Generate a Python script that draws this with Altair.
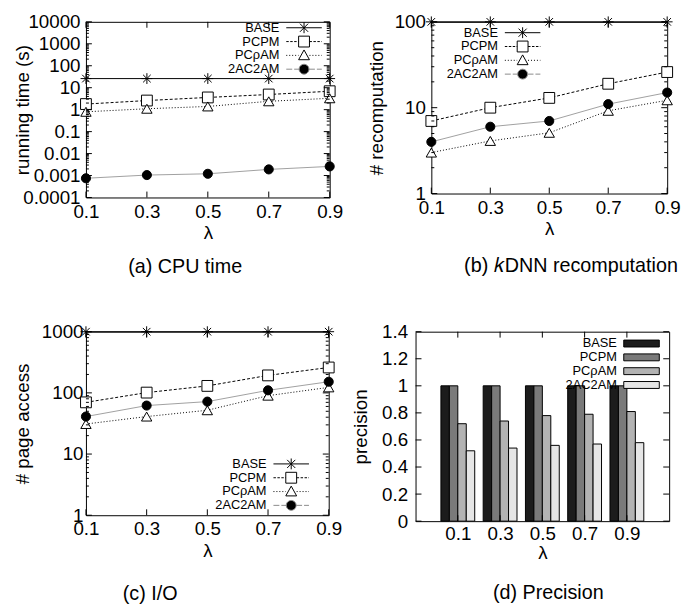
import json
import math
import altair as alt
import pandas as pd

FONT = "Liberation Sans"

series = ["BASE", "PCPM", "PCρAM", "2AC2AM"]
lam = [0.1, 0.3, 0.5, 0.7, 0.9]

# (a) CPU time (s)
cpu_base = [26, 26, 26, 26, 26]
cpu_pcpm = [1.8, 2.6, 3.6, 4.9, 6.9]
cpu_pcram = [0.8, 1.1, 1.4, 2.4, 3.3]
cpu_2ac = [0.00075, 0.00105, 0.0012, 0.0019, 0.0026]

# (b) kDNN recomputation
rec_base = [100, 100, 100, 100, 100]
rec_pcpm = [7, 10, 13, 19, 26]
rec_pcram = [3, 4.1, 5.1, 9.2, 12.2]
rec_2ac = [4, 6, 7, 11, 15]

# (c) I/O
io_base = [1000, 1000, 1000, 1000, 1000]
io_pcpm = [70, 101, 130, 193, 260]
io_pcram = [31, 41, 52, 90, 123]
io_2ac = [41, 62, 72, 110, 152]

# (d) precision
prec_base = [1, 1, 1, 1, 1]
prec_pcpm = [1, 1, 1, 1, 1]
prec_pcram = [0.72, 0.74, 0.78, 0.79, 0.81]
prec_2ac = [0.52, 0.54, 0.56, 0.57, 0.58]

cpu_ticks = [0.0001, 0.001, 0.01, 0.1, 1, 10, 100, 1000, 10000]
rec_ticks = [1, 10, 100]
io_ticks = [1, 10, 100, 1000]
prec_ticks = [0, 0.2, 0.4, 0.6, 0.8, 1.0, 1.2, 1.4]


def minors_of(ticks):
    out = []
    for t in ticks[:-1]:
        out += [t * k for k in range(2, 10)]
    return out


def long_df(vals):
    rows = []
    for s, vs in zip(series, vals):
        for l, v in zip(lam, vs):
            rows.append({"lam": l, "series": s, "value": v})
    return pd.DataFrame(rows)


def E(v):
    return {"expr": str(v)}


# ---------- marker / legend shapes (styles only) ----------
ASTER = "M-1,0H1M0,-1V1M-0.7,-0.7L0.7,0.7M-0.7,0.7L0.7,-0.7"
U = 5.0  # px per legend path unit (symbolSize 100)
LEG_SIZE = 100


def segs(a, b, on, off):
    out = []
    x = a
    while x < b - 0.01:
        e = min(x + on, b)
        out.append(f"M{x / U:.3f},0H{e / U:.3f}")
        x = e + off
    return "".join(out)


def polygon_circle(rad, n=20):
    pts = [(rad * math.cos(2 * math.pi * i / n), rad * math.sin(2 * math.pi * i / n)) for i in range(n)]
    return "M" + "L".join(f"{x:.3f},{y:.3f}" for x, y in pts) + "Z"


m = 5.5 / U
h = 0.75 * m
r = 5.0 / U
leg_paths = [
    segs(-18, 18, 40, 0) + f"M0,{-m:.3f}V{m:.3f}M{-h:.3f},{-h:.3f}L{h:.3f},{h:.3f}M{-h:.3f},{h:.3f}L{h:.3f},{-h:.3f}",
    segs(-18, -5.5, 2.5, 1.5) + segs(5.5, 18, 2.5, 1.5) + f"M{-m:.3f},{-m:.3f}H{m:.3f}V{m:.3f}H{-m:.3f}Z",
    segs(-18, -5.5, 1, 2) + segs(5.5, 18, 1, 2) + f"M0,{-m:.3f}L{m:.3f},{0.8*m:.3f}L{-m:.3f},{0.8*m:.3f}Z",
    segs(-18, -5, 6, 2) + segs(5, 18, 6, 2) + polygon_circle(r),
]
leg_fills = ["transparent", "white", "white", "black"]
leg_strokes = ["black", "black", "black", "#8a8a8a"]

styles = {
    "BASE": dict(line="black", dash=None, shape=ASTER, size=120, fill="transparent"),
    "PCPM": dict(line="black", dash=[3, 2], shape="square", size=120, fill="white"),
    "PCρAM": dict(line="black", dash=[1, 2], shape="triangle-up", size=110, fill="white"),
    "2AC2AM": dict(line="#a0a0a0", dash=None, shape="circle", size=85, fill="black"),
}

bar_colors = ["#1c1c1c", "#7a7a7a", "#b3b3b3", "#e6e6e6"]
RECT = f"M{-18/U:.3f},{-3.5/U:.3f}H{18/U:.3f}V{3.5/U:.3f}H{-18/U:.3f}Z"
LABEL_OFF = E(-31.5)


def tick_layers(yticks, yminors, ysc, yax, w, hgt, xvals, xsc, xax):
    L = []
    tdf = pd.DataFrame({"value": yticks})
    L.append(alt.Chart(tdf).mark_rule(color="black", strokeWidth=1).encode(
        y=alt.Y("value:Q", scale=ysc, axis=yax), x=alt.value(0), x2=alt.value(6)))
    L.append(alt.Chart(tdf).mark_rule(color="black", strokeWidth=1).encode(
        y=alt.Y("value:Q", scale=ysc, axis=yax), x=alt.value(w), x2=alt.value(w - 6)))
    if yminors:
        mdf = pd.DataFrame({"value": yminors})
        L.append(alt.Chart(mdf).mark_rule(color="black", strokeWidth=1).encode(
            y=alt.Y("value:Q", scale=ysc, axis=yax), x=alt.value(0), x2=alt.value(3)))
        L.append(alt.Chart(mdf).mark_rule(color="black", strokeWidth=1).encode(
            y=alt.Y("value:Q", scale=ysc, axis=yax), x=alt.value(w), x2=alt.value(w - 3)))
    xdf = pd.DataFrame({"lam": xvals})
    L.append(alt.Chart(xdf).mark_rule(color="black", strokeWidth=1).encode(
        x=alt.X("lam:Q", scale=xsc, axis=xax), y=alt.value(hgt), y2=alt.value(hgt - 6)))
    L.append(alt.Chart(xdf).mark_rule(color="black", strokeWidth=1).encode(
        x=alt.X("lam:Q", scale=xsc, axis=xax), y=alt.value(0), y2=alt.value(6)))
    return L


def x_axis(label_pad, title_pad):
    return alt.Axis(title="λ", values=lam, format=".1f", ticks=False, domain=False, grid=False,
                    labelFlush=False, labelOverlap=False, labelPadding=label_pad,
                    titlePadding=E(title_pad))


def y_axis(title, values, label_pad, title_pad, fmt="~g"):
    return alt.Axis(title=title, values=values, format=fmt, ticks=False, domain=False, grid=False,
                    labelOverlap=False, labelPadding=label_pad, titlePadding=E(title_pad),
                    labelBaseline="middle")


def make_legend(lx, ly, rowpad, **kw):
    return alt.Legend(title=None, orient="none", legendX=lx, legendY=ly, labelAlign="right",
                      labelOffset=LABEL_OFF, labelFontSize=13, labelFont=FONT,
                      labelColor="black", symbolSize=LEG_SIZE, symbolStrokeWidth=1,
                      symbolOpacity=1, rowPadding=E(rowpad), padding=0, **kw)


def caption(text, offset, dx):
    return alt.TitleParams(text, orient="bottom", fontSize=20, font=FONT, fontWeight="normal",
                           color="black", offset=offset, dx=dx)


def line_panel(vals, ticks, ytitle, cap, w, hgt, lx, ly, rowpad, ylp, ytp, cap_off, cap_dx):
    df = long_df(vals)
    ysc = alt.Scale(type="log", domain=[ticks[0], ticks[-1]], nice=False)
    xsc = alt.Scale(domain=[0.1, 0.9], nice=False, zero=False)
    xax = x_axis(5, 2.5)
    yax = y_axis(ytitle, ticks, ylp, ytp)
    layers = []
    for s in series:
        st = styles[s]
        lk = dict(color=st["line"], strokeWidth=1)
        if st["dash"]:
            lk["strokeDash"] = st["dash"]
        base = alt.Chart(df).transform_filter(alt.datum.series == s)
        layers.append(base.mark_line(**lk).encode(
            x=alt.X("lam:Q", scale=xsc, axis=xax),
            y=alt.Y("value:Q", scale=ysc, axis=yax)))
    for s in series:
        st = styles[s]
        base = alt.Chart(df).transform_filter(alt.datum.series == s)
        layers.append(base.mark_point(shape=st["shape"], size=st["size"], filled=True,
                                      fill=st["fill"], stroke="black", strokeWidth=1,
                                      opacity=1).encode(
            x=alt.X("lam:Q", scale=xsc, axis=xax),
            y=alt.Y("value:Q", scale=ysc, axis=yax)))
    leg = make_legend(lx, ly, rowpad)
    legend_layer = alt.Chart(df).transform_filter("false").mark_point(
        filled=True, size=LEG_SIZE, strokeWidth=1, opacity=1).encode(
        x=alt.X("lam:Q", scale=xsc, axis=xax),
        y=alt.Y("value:Q", scale=ysc, axis=yax),
        shape=alt.Shape("series:N", scale=alt.Scale(domain=series, range=leg_paths), legend=leg),
        fill=alt.Fill("series:N", scale=alt.Scale(domain=series, range=leg_fills), legend=leg),
        stroke=alt.Stroke("series:N", scale=alt.Scale(domain=series, range=leg_strokes), legend=leg),
    )
    layers = layers + tick_layers(ticks, minors_of(ticks), ysc, yax, w, hgt, lam, xsc, xax) + [legend_layer]
    return alt.layer(*layers).properties(width=w, height=hgt, title=caption(cap, cap_off, cap_dx))


def bar_panel(vals, w, hgt, lx, ly, rowpad, ylp, ytp, cap_off, cap_dx):
    df = long_df(vals)
    ysc = alt.Scale(domain=[0, 1.4], nice=False)
    xsc = alt.Scale(domain=[-0.1, 1.1], nice=False, zero=False)
    xax = x_axis(4, -0.5)
    yax = y_axis("precision", prec_ticks, ylp, ytp)
    order = json.dumps(series, ensure_ascii=False)
    leg = make_legend(lx, ly, rowpad, symbolType=RECT, symbolStrokeColor="black")
    bars = alt.Chart(df).transform_calculate(
        k=f"indexof({order}, datum.series)", z="0"
    ).transform_calculate(
        xa="datum.lam - 0.08 + datum.k * 0.04"
    ).transform_calculate(
        xb="datum.xa + 0.04"
    ).mark_bar(stroke="black", strokeWidth=1, opacity=1).encode(
        x=alt.X("xa:Q", scale=xsc, axis=xax),
        x2="xb:Q",
        y=alt.Y("value:Q", scale=ysc, axis=yax),
        y2="z:Q",
        fill=alt.Fill("series:N", scale=alt.Scale(domain=series, range=bar_colors), legend=leg),
    )
    layers = [bars] + tick_layers(prec_ticks, [], ysc, yax, w, hgt, lam, xsc, xax)
    return alt.layer(*layers).properties(width=w, height=hgt,
                                         title=caption("(d) Precision", cap_off, cap_dx))


pa = line_panel([cpu_base, cpu_pcpm, cpu_pcram, cpu_2ac], cpu_ticks, "running time (s)",
                "(a) CPU time", 247, 178, 214.5, -0.5, -2, 6, -10, 15.5, -23)
pb = line_panel([rec_base, rec_pcpm, rec_pcram, rec_2ac], rec_ticks, "# recomputation",
                "(b) 𝑘DNN recomputation", 239, 174, 86, 4.5, -1, 6, 7.3, 18.5, 22)
pc = line_panel([io_base, io_pcpm, io_pcram, io_2ac], io_ticks, "# page access",
                "(c) I/O", 246, 186, 201.5, 127.5, -1.5, 3, 8.8, 24.5, -58)
pd_ = bar_panel([prec_base, prec_pcpm, prec_pcram, prec_2ac], 257, 192, 222.5, 5.5, -4.3,
                8, 11.6, 21.5, 6)

IND = dict(fill="independent", shape="independent", stroke="independent")

row1 = alt.hconcat(pa, pb, spacing=24).resolve_scale(**IND).resolve_legend(**IND)
row2 = alt.hconcat(pc, pd_, spacing=8).resolve_scale(**IND).resolve_legend(**IND)

chart = alt.vconcat(row1, row2, spacing=44).resolve_scale(**IND).resolve_legend(**IND).properties(
    padding={"left": 5, "top": 0, "right": 0, "bottom": 0}
).configure_view(
    stroke="black", strokeWidth=1
).configure_axis(
    labelFont=FONT, labelFontSize=19, labelColor="black",
    titleFont=FONT, titleFontSize=19, titleColor="black", titleFontWeight="normal"
).configure_legend(
    labelFont=FONT
)

chart.save("out.html", embed_options={"renderer": "svg", "actions": False})
